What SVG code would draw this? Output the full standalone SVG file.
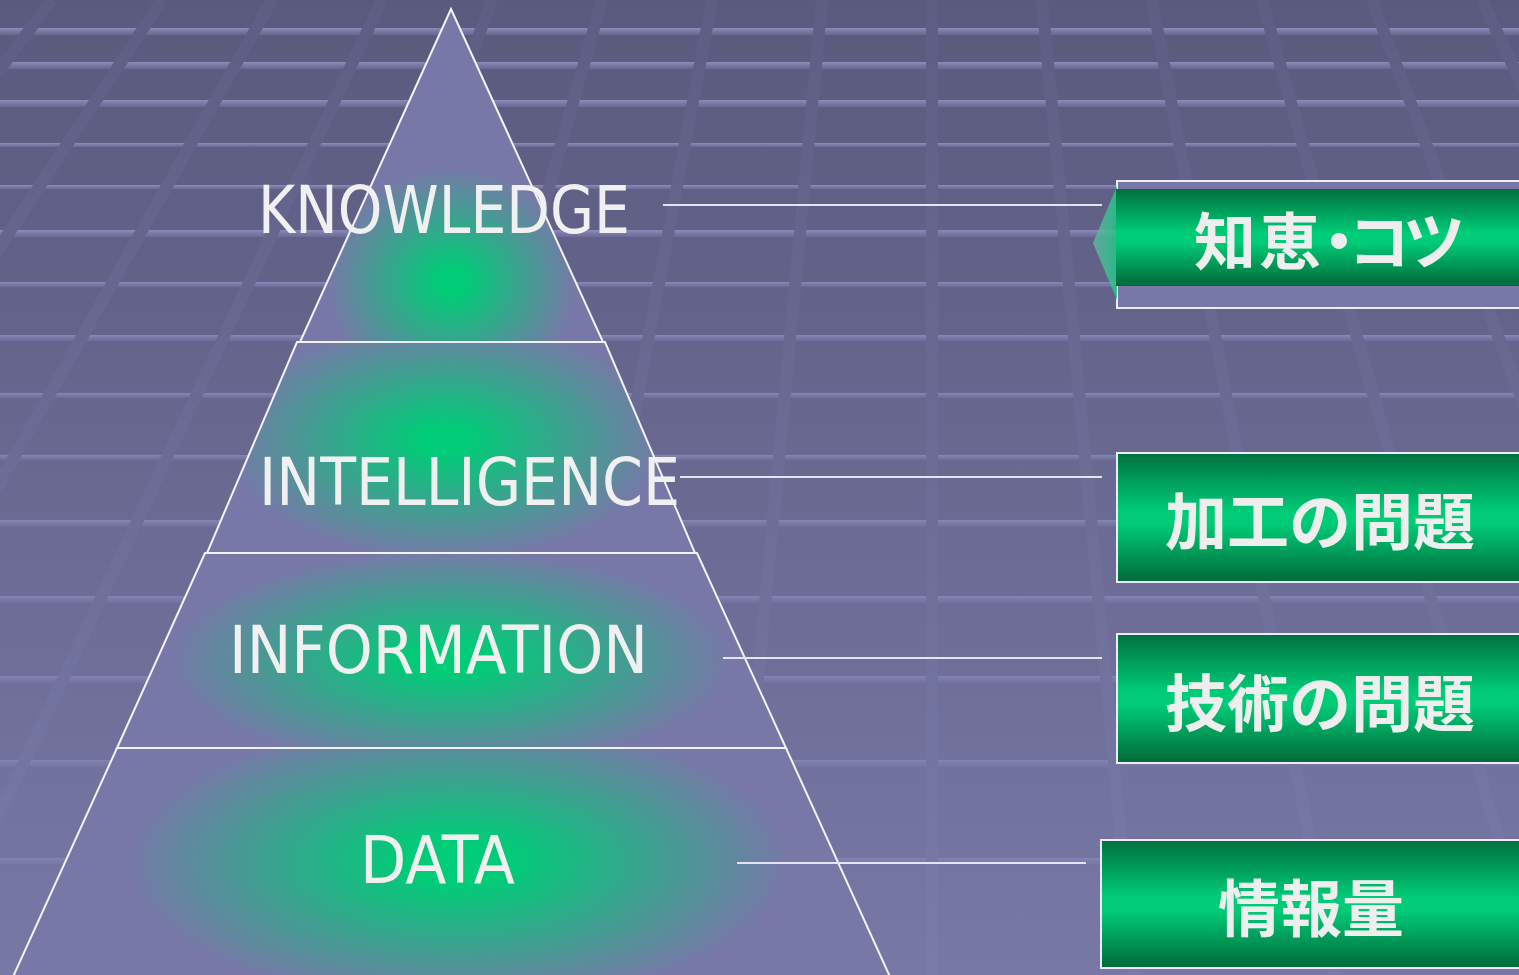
<svg xmlns="http://www.w3.org/2000/svg" width="1519" height="975" viewBox="0 0 1519 975">
<defs>
<linearGradient id="bg" x1="0" y1="0" x2="0" y2="975" gradientUnits="userSpaceOnUse">
<stop offset="0" stop-color="#5a5a7e"/>
<stop offset="1" stop-color="#7878a6"/>
</linearGradient>
<linearGradient id="col" x1="0" y1="0" x2="0" y2="975" gradientUnits="userSpaceOnUse">
<stop offset="0" stop-color="#5e5e84"/>
<stop offset="1" stop-color="#7b7baa"/>
</linearGradient>
<linearGradient id="band" x1="0" y1="0" x2="0" y2="1">
<stop offset="0" stop-color="#a8a8dc" stop-opacity="0.65"/>
<stop offset="1" stop-color="#8c8cc4" stop-opacity="0.25"/>
</linearGradient>
<radialGradient id="gK" gradientUnits="userSpaceOnUse" cx="0" cy="0" r="1" gradientTransform="translate(452 282) scale(125 115)">
<stop offset="0" stop-color="#00cc77"/>
<stop offset="0.1" stop-color="#00cc77"/>
<stop offset="1" stop-color="#7878a8"/>
</radialGradient>
<radialGradient id="gI" gradientUnits="userSpaceOnUse" cx="0" cy="0" r="1" gradientTransform="translate(445 440) scale(220 120)">
<stop offset="0" stop-color="#00cc77"/>
<stop offset="0.1" stop-color="#00cc77"/>
<stop offset="1" stop-color="#7878a8"/>
</radialGradient>
<radialGradient id="gN" gradientUnits="userSpaceOnUse" cx="0" cy="0" r="1" gradientTransform="translate(450 660) scale(280 110)">
<stop offset="0" stop-color="#00cc77"/>
<stop offset="0.12" stop-color="#00cc77"/>
<stop offset="1" stop-color="#7878a8"/>
</radialGradient>
<radialGradient id="gD" gradientUnits="userSpaceOnUse" cx="0" cy="0" r="1" gradientTransform="translate(458 862) scale(330 145)">
<stop offset="0" stop-color="#00cc77"/>
<stop offset="0.15" stop-color="#00cc77"/>
<stop offset="1" stop-color="#7878a8"/>
</radialGradient>
<linearGradient id="gBox" x1="0" y1="0" x2="0" y2="1">
<stop offset="0" stop-color="#007040"/>
<stop offset="0.45" stop-color="#00cc77"/>
<stop offset="0.55" stop-color="#00cc77"/>
<stop offset="1" stop-color="#006838"/>
</linearGradient>
<linearGradient id="gTip" x1="0" y1="0" x2="1" y2="0">
<stop offset="0" stop-color="#6ab0a0"/>
<stop offset="1" stop-color="#20c888"/>
</linearGradient>
</defs>
<style>
.edge{stroke:#f2f2f2;stroke-width:2;stroke-linejoin:miter}
.lbl{font-family:"DejaVu Sans","Liberation Sans",sans-serif;font-size:65px;fill:#f0f0f0}
.jp{font-family:"Noto Sans CJK JP","Noto Sans CJK SC",sans-serif;font-weight:bold;font-size:62px;fill:#eeeeee}
.box{stroke:#ececf4;stroke-width:2;fill:url(#gBox)}
.conn{stroke:#e4e4f0;stroke-width:2}
.band{fill:url(#band)}
.colm{stroke:url(#col);stroke-width:12}
</style>

<g id="background">
<rect x="0" y="0" width="1519" height="975" fill="url(#bg)"/>
<g id="bands">
<rect class="band" x="0" y="28" width="1519" height="7"/>
<rect class="band" x="0" y="62" width="1519" height="7"/>
<rect class="band" x="0" y="100" width="1519" height="7"/>
<rect class="band" x="0" y="143" width="1519" height="4"/>
<rect class="band" x="0" y="185" width="1519" height="4"/>
<rect class="band" x="0" y="230" width="1519" height="7" opacity="0.95"/>
<rect class="band" x="0" y="282" width="1519" height="5" opacity="0.9"/>
<rect class="band" x="0" y="335" width="1519" height="6" opacity="0.85"/>
<rect class="band" x="0" y="393" width="1519" height="5" opacity="0.8"/>
<rect class="band" x="0" y="455" width="1519" height="5" opacity="0.75"/>
<rect class="band" x="0" y="520" width="1519" height="7" opacity="0.7"/>
<rect class="band" x="0" y="596" width="1519" height="7" opacity="0.65"/>
<rect class="band" x="0" y="676" width="1519" height="7" opacity="0.6"/>
<rect class="band" x="0" y="760" width="1519" height="7" opacity="0.55"/>
<rect class="band" x="0" y="858" width="1519" height="6" opacity="0.5"/>
</g>
<g id="columns">
<line class="colm" x1="52" y1="0" x2="-681" y2="975"/>
<line class="colm" x1="162" y1="0" x2="-479" y2="975"/>
<line class="colm" x1="272" y1="0" x2="-278" y2="975"/>
<line class="colm" x1="382" y1="0" x2="-76" y2="975"/>
<line class="colm" x1="492" y1="0" x2="126" y2="975"/>
<line class="colm" x1="602" y1="0" x2="327" y2="975"/>
<line class="colm" x1="712" y1="0" x2="529" y2="975"/>
<line class="colm" x1="822" y1="0" x2="730" y2="975"/>
<line class="colm" x1="932" y1="0" x2="932" y2="975"/>
<line class="colm" x1="1042" y1="0" x2="1134" y2="975"/>
<line class="colm" x1="1152" y1="0" x2="1335" y2="975"/>
<line class="colm" x1="1262" y1="0" x2="1537" y2="975"/>
<line class="colm" x1="1372" y1="0" x2="1738" y2="975"/>
<line class="colm" x1="1482" y1="0" x2="1940" y2="975"/>
</g>
</g>

<g id="tier-data">
<polygon class="edge" points="117,748 786,748 896,990 7,990" fill="url(#gD)"/>
<text class="lbl" x="360" y="883" textLength="155" lengthAdjust="spacingAndGlyphs">DATA</text>
</g>
<g id="tier-information">
<polygon class="edge" points="205,553 697,553 786,748 117,748" fill="url(#gN)"/>
<text class="lbl" x="229" y="673" textLength="419" lengthAdjust="spacingAndGlyphs">INFORMATION</text>
</g>
<g id="tier-intelligence">
<polygon class="edge" points="297,342 605,342 695,553 207,553" fill="url(#gI)"/>
<text class="lbl" x="259" y="505" textLength="421" lengthAdjust="spacingAndGlyphs">INTELLIGENCE</text>
</g>
<g id="tier-knowledge">
<polygon class="edge" points="451,9 603,342 300,342" fill="url(#gK)"/>
<text class="lbl" x="258" y="233" textLength="372" lengthAdjust="spacingAndGlyphs">KNOWLEDGE</text>
</g>

<g id="connectors">
<line class="conn" x1="663" y1="205" x2="1102" y2="205"/>
<line class="conn" x1="680" y1="477" x2="1102" y2="477"/>
<line class="conn" x1="723" y1="658" x2="1102" y2="658"/>
<line class="conn" x1="737" y1="863" x2="1086" y2="863"/>
</g>

<g id="box-chie">
<rect x="1117" y="181" width="420" height="127" fill="#7878a8" stroke="#ececf4" stroke-width="2"/>
<polygon points="1117,186 1093,243 1117,300" fill="url(#gTip)" opacity="0.85"/>
<rect x="1116" y="189" width="420" height="97" fill="url(#gBox)"/>
<text class="jp" y="265" x="1194 1259 1308 1348 1403">知恵・コツ</text>
</g>
<g id="box-kakou">
<rect class="box" x="1117" y="453" width="420" height="129"/>
<text class="jp" x="1320" y="545" text-anchor="middle">加工の問題</text>
</g>
<g id="box-gijutsu">
<rect class="box" x="1117" y="634" width="420" height="129"/>
<text class="jp" x="1320" y="727" text-anchor="middle">技術の問題</text>
</g>
<g id="box-jouhouryou">
<rect class="box" x="1101" y="840" width="440" height="128"/>
<text class="jp" x="1311" y="932" text-anchor="middle">情報量</text>
</g>
</svg>
